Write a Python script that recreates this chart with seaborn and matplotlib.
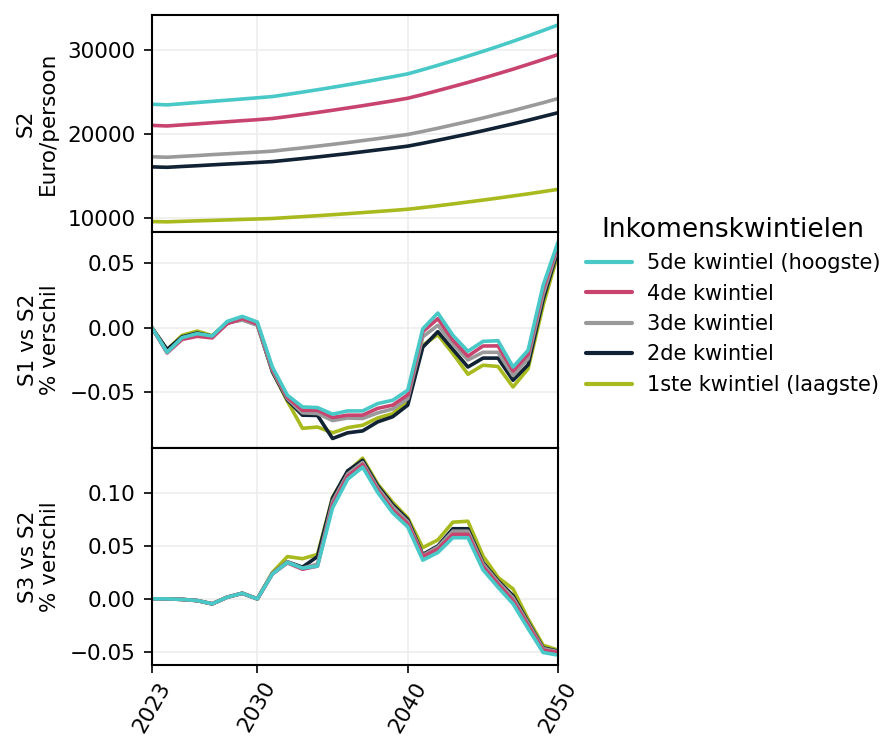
import numpy as np
import pandas as pd
import matplotlib
matplotlib.use("Agg")
import matplotlib.pyplot as plt
import seaborn as sns
from matplotlib.lines import Line2D

years = list(range(2023, 2051))

groups = ["5de kwintiel (hoogste)", "4de kwintiel", "3de kwintiel",
          "2de kwintiel", "1ste kwintiel (laagste)"]
colors = ["#48C9C7", "#C8446F", "#9A9A9A", "#102233", "#A9BA1F"]

# Panel 1: S2, Euro/persoon
s2_q5 = [23500, 23430, 23570, 23710, 23850, 23990, 24130, 24270, 24420, 24680,
         24950, 25230, 25520, 25820, 26130, 26450, 26780, 27120, 27620, 28140,
         28680, 29230, 29800, 30390, 31000, 31630, 32280, 32950]
s2_q4 = [20990, 20920, 21050, 21170, 21300, 21420, 21550, 21670, 21810, 22040,
         22280, 22530, 22790, 23060, 23330, 23620, 23910, 24220, 24660, 25130,
         25610, 26100, 26610, 27140, 27680, 28250, 28830, 29420]
s2_q3 = [17250, 17200, 17300, 17400, 17510, 17610, 17710, 17810, 17920, 18120,
         18310, 18520, 18730, 18950, 19180, 19410, 19660, 19910, 20270, 20650,
         21050, 21450, 21870, 22310, 22750, 23220, 23690, 24190]
s2_q2 = [16050, 16000, 16100, 16190, 16290, 16390, 16480, 16580, 16680, 16860,
         17040, 17230, 17430, 17630, 17850, 18070, 18290, 18520, 18860, 19220,
         19590, 19960, 20350, 20760, 21170, 21600, 22050, 22500]
s2_q1 = [9540, 9510, 9570, 9630, 9680, 9740, 9800, 9850, 9910, 10020,
         10130, 10240, 10360, 10480, 10610, 10740, 10870, 11010, 11210, 11420,
         11640, 11870, 12100, 12340, 12590, 12840, 13110, 13380]

# Panel 2: S1 vs S2, % verschil
s1_q5 = [0.0, -0.019, -0.0076, -0.0045, -0.0063, 0.005, 0.0089, 0.0045, -0.0304, -0.0523,
         -0.0614, -0.0619, -0.067, -0.0645, -0.0645, -0.0588, -0.0562, -0.0484, -0.0007, 0.0115,
         -0.0058, -0.0182, -0.0105, -0.010, -0.0304, -0.0174, 0.033, 0.067]
s1_q4 = [0.0, -0.0195, -0.009, -0.0066, -0.0078, 0.0032, 0.0072, 0.003, -0.032, -0.054,
         -0.064, -0.064, -0.0696, -0.0678, -0.0678, -0.0625, -0.060, -0.052, -0.003, 0.0071,
         -0.0095, -0.022, -0.0141, -0.014, -0.0335, -0.0205, 0.030, 0.065]
s1_q3 = [0.0, -0.019, -0.008, -0.005, -0.007, 0.004, 0.006, 0.002, -0.033, -0.055,
         -0.066, -0.0665, -0.072, -0.070, -0.0704, -0.066, -0.063, -0.055, -0.007, 0.002,
         -0.0125, -0.025, -0.019, -0.019, -0.037, -0.024, 0.026, 0.063]
s1_q2 = [0.0, -0.0168, -0.007, -0.004, -0.0065, 0.004, 0.0065, 0.0025, -0.034, -0.056,
         -0.0678, -0.068, -0.0859, -0.0815, -0.080, -0.073, -0.069, -0.060, -0.015, -0.003,
         -0.0168, -0.0304, -0.0235, -0.0235, -0.0407, -0.0287, 0.022, 0.061]
s1_q1 = [0.0, -0.017, -0.0058, -0.0025, -0.006, 0.004, 0.0068, 0.0028, -0.034, -0.057,
         -0.078, -0.077, -0.0815, -0.0775, -0.0756, -0.070, -0.0666, -0.057, -0.0136, -0.0053,
         -0.020, -0.036, -0.029, -0.030, -0.0459, -0.0317, 0.0174, 0.058]

# Panel 3: S3 vs S2, % verschil
s3_q5 = [0.0, 0.0, -0.0005, -0.0016, -0.0047, 0.0016, 0.0053, 0.0, 0.0235, 0.0344,
         0.029, 0.031, 0.086, 0.113, 0.1245, 0.1007, 0.0813, 0.068, 0.0366, 0.0438,
         0.0578, 0.0578, 0.0275, 0.011, -0.0047, -0.0281, -0.0507, -0.0532]
s3_q4 = [0.0, 0.0, -0.0005, -0.0016, -0.0047, 0.0016, 0.0053, 0.0, 0.0235, 0.034,
         0.028, 0.031, 0.089, 0.116, 0.127, 0.103, 0.084, 0.071, 0.040, 0.047,
         0.061, 0.061, 0.0306, 0.014, -0.0016, -0.025, -0.0485, -0.0507]
s3_q3 = [0.0, 0.0, -0.0005, -0.0016, -0.0047, 0.0016, 0.0053, 0.0, 0.024, 0.035,
         0.029, 0.033, 0.092, 0.118, 0.129, 0.105, 0.087, 0.073, 0.041, 0.049,
         0.064, 0.064, 0.033, 0.016, 0.001, -0.023, -0.047, -0.050]
s3_q2 = [0.0, 0.0, -0.0005, -0.0016, -0.0047, 0.0016, 0.0053, 0.0, 0.024, 0.035,
         0.030, 0.040, 0.0954, 0.121, 0.131, 0.107, 0.089, 0.075, 0.042, 0.050,
         0.0663, 0.0663, 0.0344, 0.0172, 0.003, -0.0219, -0.0463, -0.0495]
s3_q1 = [0.0, 0.0, -0.0005, -0.0016, -0.0047, 0.0016, 0.0053, 0.0, 0.025, 0.040,
         0.038, 0.042, 0.096, 0.120, 0.133, 0.1086, 0.0913, 0.0766, 0.0485, 0.0557,
         0.0725, 0.0734, 0.0406, 0.0203, 0.0094, -0.019, -0.0438, -0.0485]

panels = [
    ([s2_q5, s2_q4, s2_q3, s2_q2, s2_q1], "S2\nEuro/persoon", [10000, 20000, 30000]),
    ([s1_q5, s1_q4, s1_q3, s1_q2, s1_q1], "S1 vs S2\n% verschil", [-0.05, 0.0, 0.05]),
    ([s3_q5, s3_q4, s3_q3, s3_q2, s3_q1], "S3 vs S2\n% verschil", [-0.05, 0.0, 0.05, 0.10]),
]

sns.set_theme(style="whitegrid")
plt.rcParams["font.family"] = ["DejaVu Sans"]
for key in ["text.color", "axes.labelcolor", "xtick.color", "ytick.color"]:
    plt.rcParams[key] = "black"

fig, axes = plt.subplots(3, 1, figsize=(8.86, 7.37), dpi=100, sharex=True)
fig.subplots_adjust(left=0.1716, right=0.630, top=0.9796, bottom=0.0977, hspace=0)

palette = dict(zip(groups, colors))
hue_order = groups[::-1]  # draw lowest first so highest ends on top

for ax, (series, ylabel, yticks) in zip(axes, panels):
    df = pd.DataFrame({
        "jaar": np.tile(years, len(groups)),
        "waarde": np.concatenate(series),
        "groep": np.repeat(groups, len(years)),
    })
    sns.lineplot(data=df, x="jaar", y="waarde", hue="groep", hue_order=hue_order,
                 palette=palette, linewidth=2.6, ax=ax, legend=False)
    ax.set_xlim(2023, 2050)
    ax.set_yticks(yticks)
    ax.set_ylabel(ylabel, fontsize=15.5, linespacing=1.1, labelpad=7)
    ax.set_xlabel("")
    for sp in ax.spines.values():
        sp.set_color("black")
        sp.set_linewidth(1.5)
    ax.grid(True, color="#ededed", linewidth=1.2)
    ax.tick_params(axis="y", labelsize=15.5, left=True, length=6, width=1.2, color="black", pad=6)
    ax.tick_params(axis="x", labelsize=15.5, bottom=True, length=6, width=1.2, color="black")

axes[0].tick_params(axis="x", bottom=False)
axes[2].set_xticks([2023, 2030, 2040, 2050])
for lab in axes[2].get_xticklabels():
    lab.set_rotation(60)
    lab.set_ha("center")

handles = [Line2D([0], [0], color=c, lw=3) for c in colors]
leg = fig.legend(handles, groups, title="Inkomenskwintielen", loc="center left",
                 bbox_to_anchor=(0.64, 0.585), frameon=False, fontsize=15,
                 title_fontsize=19, handlelength=2.2, labelspacing=0.5,
                 handletextpad=0.72)

fig.savefig("out.png", dpi=100)
